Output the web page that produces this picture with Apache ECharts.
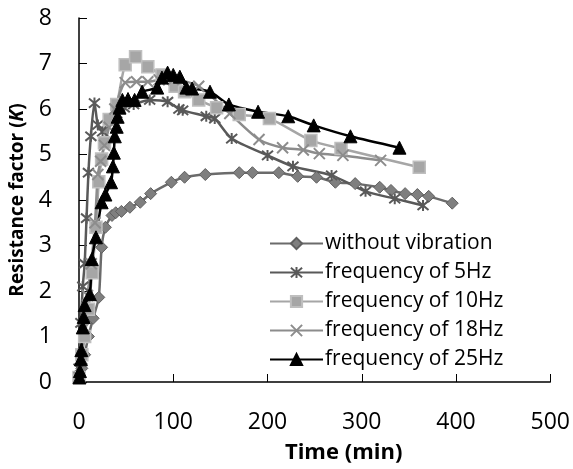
<!DOCTYPE html>
<html><head><meta charset="utf-8">
<script src="https://cdn.jsdelivr.net/npm/echarts@6/dist/echarts.min.js"></script>
<style>html,body{margin:0;padding:0;background:#fff}#c{width:573px;height:469px}</style>
</head><body><div id="c"></div>
<script>
const seriesNames = ['without vibration','frequency of 5Hz','frequency of 10Hz','frequency of 18Hz','frequency of 25Hz'];
const xTicks = [0,100,200,300,400,500];
const yTicks = [0,1,2,3,4,5,6,7,8];

const noVib = [[0,0.1],[3,0.3],[6,0.6],[10,1.0],[15,1.4],[21,1.86],[24,2.96],[28,3.4],[35,3.66],[39,3.72],[45,3.75],[54,3.84],[65,3.95],[76,4.14],[98,4.39],[112,4.5],[134,4.56],[170,4.6],[184,4.6],[212,4.6],[232,4.52],[252,4.5],[272,4.39],[293,4.36],[319,4.28],[331,4.21],[346,4.14],[359,4.12],[371,4.08],[396,3.93]];
const hz5 = [[0,0.3],[2,1.3],[4,2.1],[6,2.6],[8,3.6],[10,4.6],[12.6,5.4],[16.4,6.13],[20,5.65],[25,5.5],[32,5.75],[40,5.9],[48,6.03],[58,6.1],[75,6.2],[94,6.16],[106,6.0],[110,5.97],[135,5.84],[144,5.79],[162,5.35],[200,4.98],[227,4.74],[268,4.54],[304,4.19],[335,4.03],[365,3.88]];
const hz10 = [[0,0.1],[3,0.6],[6,1.0],[10,1.6],[14,2.4],[18,3.4],[21,4.4],[24,4.9],[27,5.26],[32,5.77],[40,6.1],[49,6.97],[60,7.15],[73,6.93],[88,6.75],[102,6.5],[112,6.38],[127,6.2],[146,6.03],[170,5.88],[202,5.79],[246,5.31],[278,5.13],[361,4.72]];
const hz18 = [[0,0.1],[3,0.5],[6,1.2],[9,1.9],[13,2.6],[17,3.5],[20,4.56],[23,4.85],[27,5.2],[32,5.6],[38,6.0],[49,6.58],[61,6.6],[73,6.6],[85,6.64],[100,6.65],[127,6.5],[160,5.9],[191,5.33],[216,5.15],[238,5.1],[255,5.02],[280,4.98],[320,4.87]];
const hz25 = [[0.5,0.1],[1,0.24],[2,0.5],[2.5,0.7],[4,1.2],[5,1.43],[6,1.69],[11.5,1.93],[13.6,2.7],[18,3.18],[24,3.95],[28,4.12],[34,4.39],[36,4.74],[37,5.04],[38,5.4],[40,5.61],[41,5.83],[43,6.03],[46,6.2],[52,6.22],[59,6.2],[67,6.38],[83,6.47],[88,6.69],[94,6.8],[100,6.75],[107,6.71],[114,6.47],[120,6.45],[139,6.38],[159,6.1],[190,5.94],[222,5.84],[249,5.64],[288,5.4],[340,5.15]];

const FONT = 'Open Sans';
const chart = echarts.init(document.getElementById('c'));
const xPath = 'path://M0,0L10,10M10,0L0,10';
const starPath = 'path://M0,0L10,10M10,0L0,10M5,-1L5,11';
function mk(name, data, lineColor, symbol, size, fill, border, bw) {
  return {
    name, type: 'line', data, smooth: 0.25,
    symbol, symbolSize: size,
    lineStyle: {color: lineColor, width: 2.5},
    itemStyle: {color: fill, borderColor: border, borderWidth: bw},
    emphasis: {disabled: true}
  };
}
chart.setOption({
  animation: false,
  backgroundColor: '#fff',
  grid: {left: 77, right: 20, top: 18, bottom: 86, containLabel: false},
  legend: {
    orient: 'vertical', left: 264, top: 228, itemGap: 8, itemWidth: 53, itemHeight: 14,
    textStyle: {fontFamily: FONT, fontSize: 21, color: '#000', padding: [0,0,0,-3]},
    data: seriesNames
  },
  xAxis: {
    type: 'value', min: 0, max: 500, interval: 100,
    name: 'Time (min)', nameLocation: 'middle', nameGap: 60,
    nameTextStyle: {fontFamily: FONT, fontSize: 22, fontWeight: 'bold', color: '#000', padding: [0,0,0,58]},
    axisLine: {lineStyle: {color: '#000', width: 1.5}},
    axisTick: {inside: true, length: 8, lineStyle: {color: '#000'}},
    axisLabel: {fontFamily: FONT, fontSize: 23, color: '#000', margin: 29},
    splitLine: {show: false}
  },
  yAxis: {
    type: 'value', min: 0, max: 8, interval: 1,
    name: 'Resistance factor ({i|K})', nameLocation: 'middle', nameGap: 52,
    nameTextStyle: {fontFamily: FONT, fontSize: 19, fontWeight: 'bold', color: '#000',
      rich: {i: {fontFamily: FONT, fontSize: 19, fontWeight: 'bold', fontStyle: 'italic', color: '#000'}}},
    axisLine: {show: true, lineStyle: {color: '#000', width: 1.5}},
    axisTick: {show: true, inside: true, length: 8, lineStyle: {color: '#000'}},
    axisLabel: {fontFamily: FONT, fontSize: 23, color: '#000', margin: 27},
    splitLine: {show: false}
  },
  series: [
    mk(seriesNames[0], noVib, '#6b6b6b', 'diamond', 12, '#7f7f7f', '#5f5f5f', 1),
    mk(seriesNames[1], hz5, '#595959', starPath, 11, 'transparent', '#595959', 2),
    mk(seriesNames[2], hz10, '#a6a6a6', 'rect', 12, '#a6a6a6', '#bfbfbf', 1.5),
    mk(seriesNames[3], hz18, '#8c8c8c', xPath, 11, 'transparent', '#8c8c8c', 2),
    mk(seriesNames[4], hz25, '#000000', 'triangle', 13, '#000', '#000', 1)
  ]
});
</script></body></html>
